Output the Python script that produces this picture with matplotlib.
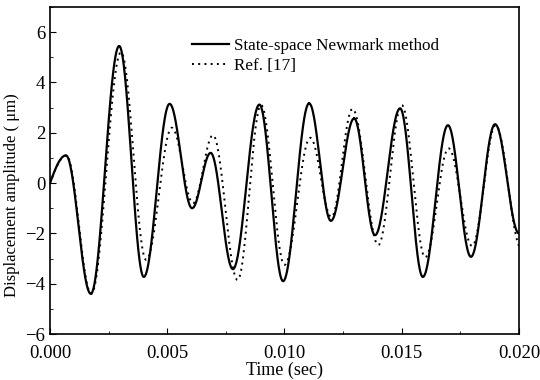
import numpy as np
import matplotlib
matplotlib.use('Agg')
import matplotlib.pyplot as plt
from matplotlib.ticker import MultipleLocator

# extrema (time in s, displacement in um)
newmark_t = [0.0, 0.00068, 0.00174, 0.00295, 0.0040, 0.0051, 0.00606, 0.00685,
             0.0078, 0.00893, 0.00994, 0.01105, 0.01198, 0.01297, 0.01386,
             0.01493, 0.0159, 0.01697, 0.01795, 0.01898, 0.0200]
newmark_y = [0.0, 1.1, -4.4, 5.45, -3.73, 3.15, -1.0, 1.2,
             -3.42, 3.12, -3.9, 3.17, -1.5, 2.57, -2.07,
             2.97, -3.73, 2.3, -2.93, 2.34, -2.0]

ref_t = [0.0, 0.00070, 0.00176, 0.00303, 0.0041, 0.0052, 0.0061, 0.00695,
         0.0080, 0.0090, 0.0100, 0.0111, 0.0120, 0.0129, 0.0140,
         0.0150, 0.0160, 0.0170, 0.0180, 0.0190, 0.0201]
ref_y = [0.0, 1.1, -4.4, 5.2, -3.05, 2.2, -0.8, 1.9,
         -3.85, 3.1, -3.25, 1.8, -1.35, 2.95, -2.46,
         3.1, -2.95, 1.38, -2.5, 2.3, -2.6]


def trace(ts, ys, n=60):
    # smooth half-wave between successive extrema
    xs, vs = [], []
    for i in range(len(ts) - 1):
        s = np.linspace(0, 1, n)
        if i == 0:
            seg = ys[0] + (ys[1] - ys[0]) * np.sin(np.pi / 2 * s)
        else:
            seg = ys[i] + (ys[i + 1] - ys[i]) * (1 - np.cos(np.pi * s)) / 2
        xs.append(ts[i] + (ts[i + 1] - ts[i]) * s)
        vs.append(seg)
    return np.concatenate(xs), np.concatenate(vs)


plt.rcParams['font.family'] = ['Liberation Serif', 'DejaVu Serif']

fig = plt.figure(figsize=(5.4, 3.8), dpi=100)
ax = fig.add_axes([0.0926, 0.121, 0.8685, 0.8606])

x1, y1 = trace(newmark_t, newmark_y)
x2, y2 = trace(ref_t, ref_y)
ax.plot(x1, y1, color='black', lw=1.6, label='State-space Newmark method')
ax.plot(x2, y2, color='black', lw=1.4, ls=(0, (1, 2.2)), label='Ref. [17]')

ax.set_xlim(0, 0.02)
ax.set_ylim(-6, 7)
ax.xaxis.set_major_locator(MultipleLocator(0.005))
ax.xaxis.set_minor_locator(MultipleLocator(0.0025))
ax.yaxis.set_major_locator(MultipleLocator(2))
ax.yaxis.set_minor_locator(MultipleLocator(1))
ax.xaxis.set_major_formatter(plt.FuncFormatter(lambda v, p: '%.3f' % v))
ax.tick_params(which='both', direction='in', labelsize=13.5)
ax.tick_params(which='major', length=4)
ax.tick_params(axis='x', which='major', pad=8)
ax.tick_params(which='minor', length=2.5)
for s in ax.spines.values():
    s.set_linewidth(1.2)

ax.set_xlabel('Time (sec)', fontsize=13, labelpad=0)
ax.set_ylabel('Displacement amplitude ( μm)', fontsize=12)
ax.yaxis.set_label_coords(-0.064, 0.425)

ax.legend(loc='upper left', bbox_to_anchor=(0.269, 0.952), frameon=False,
          fontsize=12.3, handlelength=2.2, handletextpad=0.3, labelspacing=0.25)

fig.savefig('out.png', dpi=100)
